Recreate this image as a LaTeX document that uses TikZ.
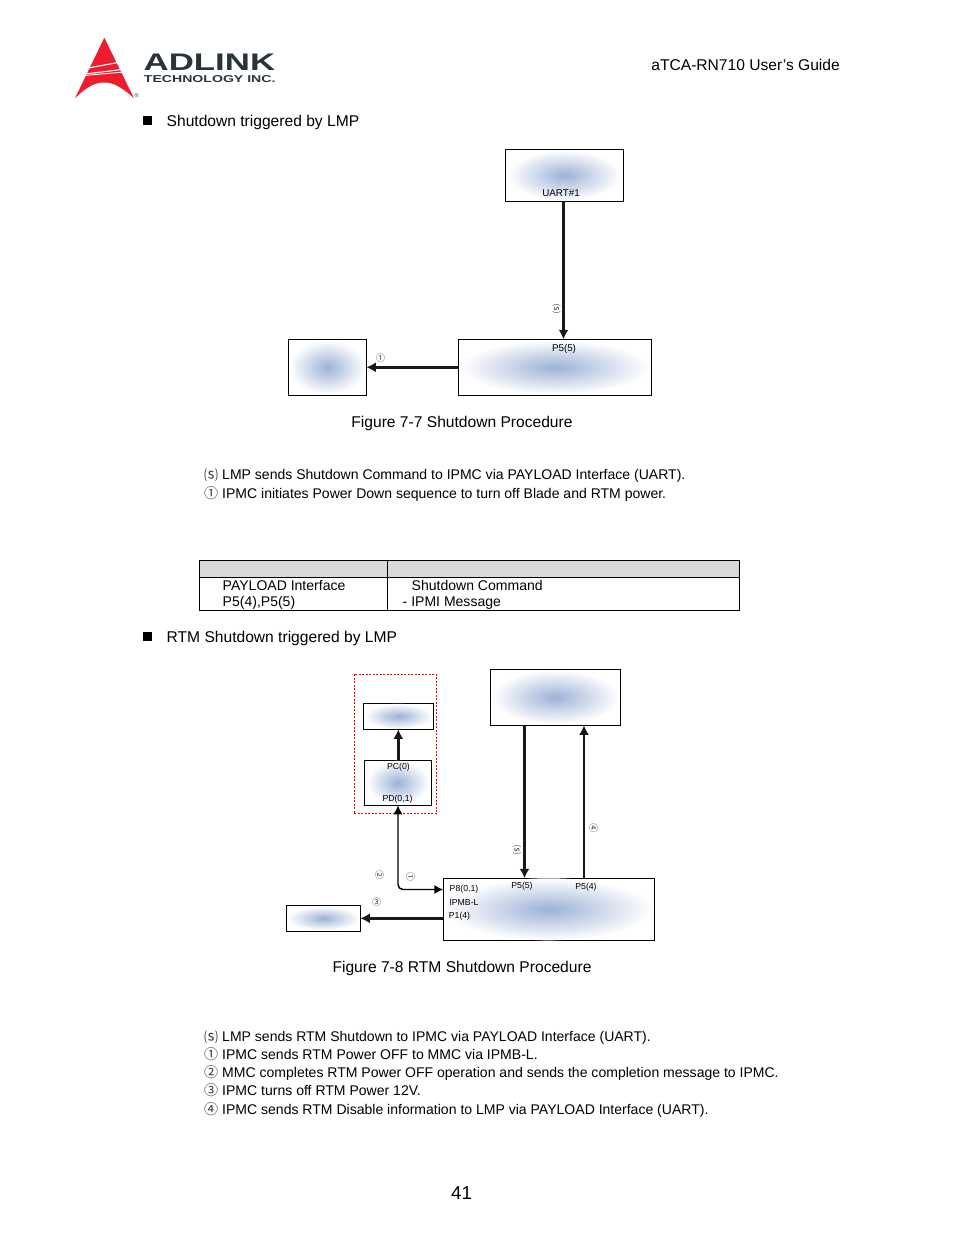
\documentclass[tikz,border=0pt]{standalone}
\usepackage{fontspec}
\usepackage{graphicx}
\setmainfont{Liberation Sans}
\newfontfamily\symf{Noto Sans CJK SC}
\usetikzlibrary{arrows.meta}
\definecolor{blobc}{RGB}{156,178,214}
\definecolor{logored}{RGB}{237,28,46}
\definecolor{logodark}{RGB}{42,52,56}
\newcommand{\fs}[1]{\fontsize{#1}{#1}\selectfont}
\tikzset{
  boxn/.style={draw=black,line width=0.9pt,inner sep=0,outer sep=0},
  blob/.style={inner color=blobc,outer color=white,draw=none},
  headtext/.style={anchor=base west,inner sep=0,font=\fs{15.6}},
  captext/.style={anchor=base,inner sep=0,font=\fs{15.6}},
  itemtext/.style={anchor=base west,inner sep=0,font=\fs{14.03}},
  marktext/.style={anchor=base,inner sep=0,font=\symf\fs{14},text=black!80},
  labtext/.style={inner sep=0,font=\fs{9.8},text=black},
  labstext/.style={inner sep=0,font=\fs{8.7},text=black},
  numtext/.style={inner sep=0,font=\symf\fs{9},text=black!80},
  fatarrow/.style={line width=2.6pt,-{Latex[length=9.5pt,width=10pt]},black!90},
  thinarrow/.style={line width=1.4pt,black}
}
\begin{document}
\begin{tikzpicture}[x=1pt,y=-1pt]
\useasboundingbox (0,0) rectangle (954,1235);
% logo
\fill[logored] (104.3,37.7) -- (134,98.3) .. controls (122,87) and (112,82) .. (104.3,82.5) .. controls (96,82) and (86,87) .. (75,98.3) -- cycle;
\draw[white,line width=1.1pt] (88,68) -- (121,62);
\draw[white,line width=1.1pt] (85,74) -- (122,69.5);
\draw[white,line width=0.9pt] (84,75.5) -- (124,72);
\node[inner sep=0,font=\fs{5.5},text=black!80] (reg) at (136.7,95.7) {®};
\node[anchor=base west,inner sep=0,font=\bfseries\fs{24},text=logodark] (adl) at (143.5,70) {\scalebox{1.45}[1]{ADLINK}};
\node[anchor=base west,inner sep=0,font=\bfseries\fs{10},text=logodark] (tec) at (143.7,82.2) {\scalebox{1.41}[1]{TECHNOLOGY INC.}};
\node[anchor=base east,inner sep=0,font=\fs{15.6}] (guide) at (840,70) {aTCA-RN710 User\symbol{39}s Guide};
% headings
\node[fill=black,inner sep=0,minimum size=9.5pt] (b1) at (147.5,120.5) {};
\node[headtext] (h1) at (166.5,126.3) {Shutdown triggered by LMP};
\node[fill=black,inner sep=0,minimum size=9.5pt] (b2) at (147.5,636.5) {};
\node[headtext] (h2) at (166.5,642.3) {RTM Shutdown triggered by LMP};
% figure 7-7
\node[boxn,minimum width=118pt,minimum height=52pt] (uart) at (564.3,175.3) {};
\node[boxn,minimum width=193pt,minimum height=56pt] (p5) at (554.8,367.3) {};
\node[boxn,minimum width=78pt,minimum height=56pt] (blade) at (327.3,367.3) {};
\shade[blob] (uart.center) ellipse (57 and 25);
\shade[blob] (p5.center) ellipse (95 and 27);
\shade[blob] (blade.center) ellipse (38 and 27);
\node[labtext] (t1) at (561,193) {UART\#1};
\node[labtext] (t2) at (564,349) {P5(5)};
\draw[fatarrow] (uart.south -| 563.5,0) -- (p5.north -| 563.5,0);
\draw[fatarrow] (p5.west) -- (blade.east);
\node[numtext,rotate=-90] (ms1) at (556.5,309) {⒮};
\node[numtext] (m11) at (380.5,358) {①};
\node[captext] (c1) at (462,427) {Figure 7-7 Shutdown Procedure};
% list 1
\node[marktext] (l1a) at (211,480) {⒮};
\node[itemtext] (l1b) at (222,479) {LMP sends Shutdown Command to IPMC via PAYLOAD Interface (UART).};
\node[marktext] (l2a) at (211,498) {①};
\node[itemtext] (l2b) at (222,498) {IPMC initiates Power Down sequence to turn off Blade and RTM power.};
% table
\fill[black!15] (199.5,560.5) rectangle (739.5,577.5);
\draw[line width=0.9pt] (199.5,560.5) rectangle (739.5,610.5);
\draw[line width=0.9pt] (199.5,577.5) -- (739.5,577.5);
\draw[line width=0.9pt] (387.5,560.5) -- (387.5,610.5);
\node[itemtext] (ta) at (222.5,590.5) {PAYLOAD Interface};
\node[itemtext] (tb) at (222.5,606.5) {P5(4),P5(5)};
\node[itemtext] (tc) at (411.5,590.5) {Shutdown Command};
\node[itemtext] (td) at (402.5,606.5) {- IPMI Message};
% figure 7-8
\node[draw=red,line width=0.7pt,inner sep=0,minimum width=82.7pt,minimum height=139pt,dash pattern=on 2pt off 1.5pt] (rtm) at (395.4,743.8) {};
\node[boxn,minimum width=70pt,minimum height=26pt] (up) at (398.3,716.3) {};
\node[boxn,minimum width=67pt,minimum height=45pt] (mid) at (397.8,782.8) {};
\node[boxn,minimum width=130pt,minimum height=56pt] (top) at (555.3,697.3) {};
\node[boxn,minimum width=211pt,minimum height=62pt] (main) at (548.8,909.3) {};
\node[boxn,minimum width=74pt,minimum height=26pt] (low) at (323.3,918.3) {};
\shade[blob] (up.center) ellipse (34 and 12.5);
\shade[blob] (mid.center) ellipse (31 and 22);
\shade[blob] (top.center) ellipse (64 and 27);
\shade[blob] (main.center) ellipse (104 and 31);
\shade[blob] (low.center) ellipse (36 and 12);
\node[labstext] (a1) at (398.5,767) {PC(0)};
\node[labstext] (a2) at (397.5,799.5) {PD(0,1)};
\node[labstext] (a3) at (464,889.5) {P8(0,1)};
\node[labstext] (a4) at (464,902) {IPMB-L};
\node[labstext] (a5) at (459.5,916.5) {P1(4)};
\node[labstext] (a6) at (522,886.5) {P5(5)};
\node[labstext] (a7) at (586,887.5) {P5(4)};
\draw[fatarrow] (mid.north -| up.south) -- (up.south);
\draw[fatarrow] (top.south -| 524.5,0) -- (main.north -| 524.5,0);
\draw[fatarrow] (main.north -| 584,0) -- (top.south -| 584,0);
\draw[fatarrow] (main.west |- low.east) -- (low.east);
\coordinate (bend) at (398,889.5);
\draw[thinarrow,{Latex[length=9pt,width=9pt]}-{Latex[length=9pt,width=9pt]},rounded corners=5pt] (mid.south -| bend) -- (bend) -- (main.west |- bend);
\node[numtext,rotate=-90] (m1) at (517,849.5) {⒮};
\node[numtext,rotate=-90] (m2) at (593.5,828) {④};
\node[numtext,rotate=-90] (m3) at (410.5,876.5) {①};
\node[numtext,rotate=-90] (m4) at (379.5,875) {②};
\node[numtext] (m5) at (376.5,902) {③};
\node[captext] (c2) at (462,972) {Figure 7-8 RTM Shutdown Procedure};
% list 2
\node[marktext] (k1a) at (211,1042) {⒮};
\node[itemtext] (k1b) at (222,1041) {LMP sends RTM Shutdown to IPMC via PAYLOAD Interface (UART).};
\node[marktext] (k2a) at (211,1059) {①};
\node[itemtext] (k2b) at (222,1059) {IPMC sends RTM Power OFF to MMC via IPMB-L.};
\node[marktext] (k3a) at (211,1077) {②};
\node[itemtext] (k3b) at (222,1077) {MMC completes RTM Power OFF operation and sends the completion message to IPMC.};
\node[marktext] (k4a) at (211,1095) {③};
\node[itemtext] (k4b) at (222,1095) {IPMC turns off RTM Power 12V.};
\node[marktext] (k5a) at (211,1114) {④};
\node[itemtext] (k5b) at (222,1114) {IPMC sends RTM Disable information to LMP via PAYLOAD Interface (UART).};
\node[anchor=base,inner sep=0,font=\fs{18.7}] (pg) at (461.5,1199.5) {41};
\end{tikzpicture}
\end{document}
